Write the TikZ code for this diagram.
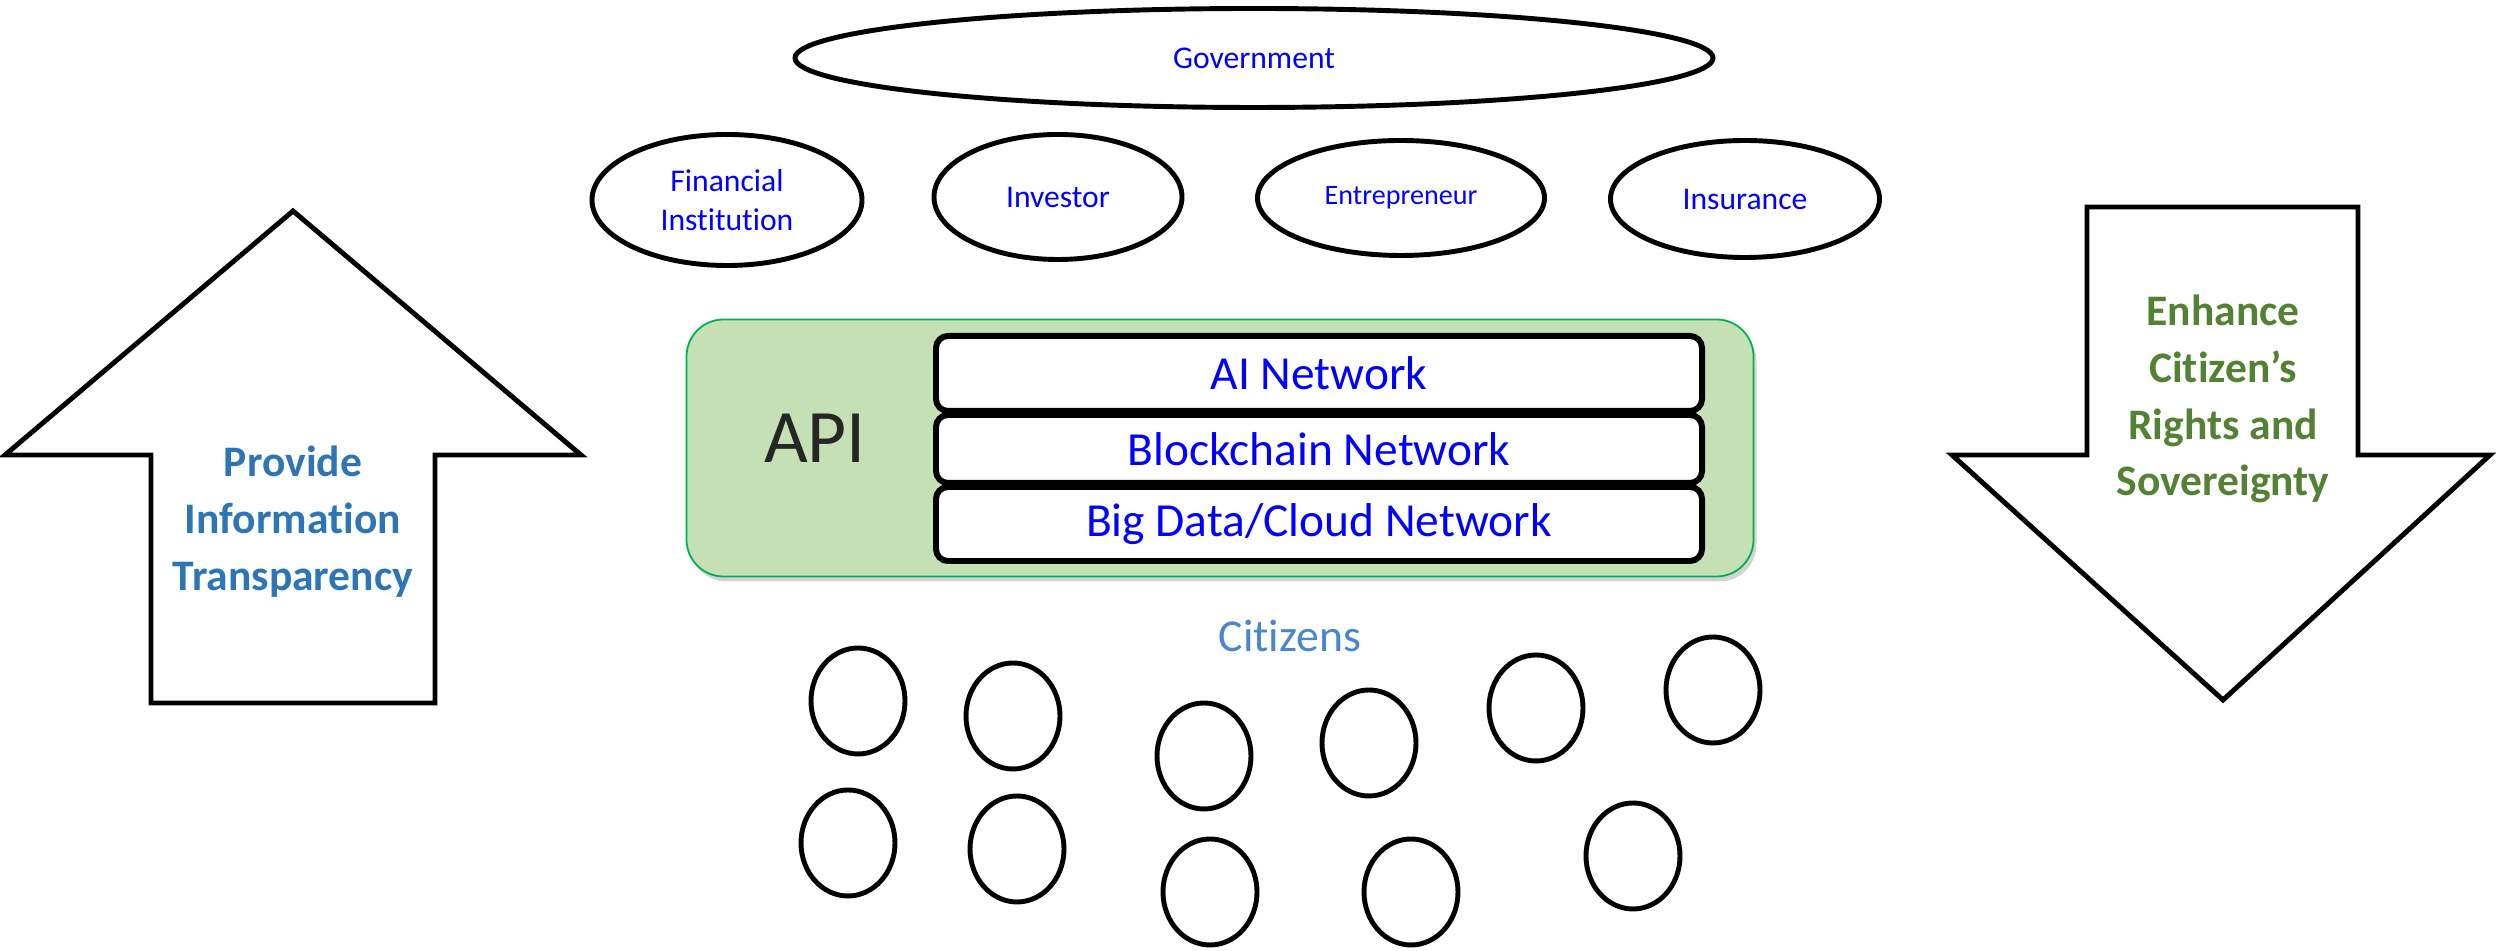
\documentclass[tikz,border=0pt]{standalone}
\usepackage{fontspec}
\setmainfont{Carlito}[Ligatures={NoCommon,NoContextual},Contextuals=NoAlternate]
\usetikzlibrary{positioning,shapes.geometric,shadows}
\definecolor{apifill}{RGB}{197,224,180}
\definecolor{apiedge}{RGB}{0,176,80}
\definecolor{apitext}{RGB}{38,38,38}
\definecolor{infoblue}{RGB}{46,117,182}
\definecolor{rightsgreen}{RGB}{84,130,53}
\definecolor{citblue}{RGB}{72,133,212}

\begin{document}
\begin{tikzpicture}[
  actor/.style={draw,ellipse,line width=1.4pt,inner sep=0pt,text=blue,align=center,
    font=\fontsize{9}{11}\selectfont},
  layer/.style={draw,line width=1.7pt,fill=white,rounded corners=1.2mm,inner sep=0pt,
    minimum width=7.66cm,text=blue,font=\fontsize{13.5}{16}\selectfont},
  citizen/.style={draw,ellipse,line width=1.4pt,inner sep=0pt,minimum width=0.94cm,minimum height=1.06cm},
  bigarrow/.style={draw,line width=1.4pt,line join=miter},
  slogan/.style={align=center,font=\bfseries\fontsize{12.4}{16.2}\selectfont}]
  \useasboundingbox (0,0) rectangle (24.96,-9.51);

  \node[actor,minimum width=9.18cm,minimum height=0.99cm] (gov) at (12.54,-0.58) {Government};
  \node[actor,minimum width=2.70cm,minimum height=1.31cm] (fin) at (7.27,-2.00) {Financial\\Institution};
  \node[actor,minimum width=2.48cm,minimum height=1.25cm] (inv) at (10.58,-1.97) {Investor};
  \node[actor,minimum width=2.87cm,minimum height=1.15cm,font=\fontsize{8}{10}\selectfont] (ent) at (14.01,-1.98) {Entrepreneur};
  \node[actor,minimum width=2.69cm,minimum height=1.17cm] (ins) at (17.45,-1.99) {Insurance};

  \node[draw=apiedge,line width=0.5pt,fill=apifill,rounded corners=3.7mm,minimum width=10.67cm,minimum height=2.57cm,
    drop shadow={shadow xshift=0.03cm,shadow yshift=-0.05cm,opacity=0.35}] (api) at (12.20,-4.48) {};
  \node[anchor=base,text=apitext,font=\fontsize{21.5}{24}\selectfont] (apilabel) at (8.15,-4.63) {API};
  \node[layer,minimum height=0.75cm] (ai) at (13.19,-3.735) {AI Network};
  \node[layer,minimum height=0.68cm] (chain) at (13.19,-4.49) {Blockchain Network};
  \node[layer,minimum height=0.74cm] (cloud) at (13.19,-5.24) {Big Data/Cloud Network};

  \node[anchor=base,text=citblue,font=\fontsize{13}{16}\selectfont] (citlabel) at (12.90,-6.52) {Citizens};
  \foreach \n/\x/\y in {1/8.58/7.01,2/10.13/7.16,3/12.04/7.56,4/13.69/7.43,5/15.36/7.08,6/17.13/6.90,
                        7/8.48/8.43,8/10.17/8.49,9/12.10/8.92,10/14.11/8.92,11/16.33/8.56}
    \node[citizen] (c\n) at (\x,-\y) {};

  \draw[bigarrow] (2.93,-2.11) -- (5.81,-4.55) -- (4.35,-4.55) -- (4.35,-7.03)
    -- (1.51,-7.03) -- (1.51,-4.55) -- (0.05,-4.55) -- cycle;
  \node[slogan,text=infoblue] (info) at (2.93,-5.22) {Provide\\Information\\Transparency};

  \draw[bigarrow] (20.87,-2.07) -- (23.58,-2.07) -- (23.58,-4.55) -- (24.90,-4.55)
    -- (22.23,-7.00) -- (19.52,-4.55) -- (20.87,-4.55) -- cycle;
  \node[slogan,text=rightsgreen] (rights) at (22.23,-3.99) {Enhance\\Citizen’s\\Rights and\\Sovereignty};
\end{tikzpicture}
\end{document}
